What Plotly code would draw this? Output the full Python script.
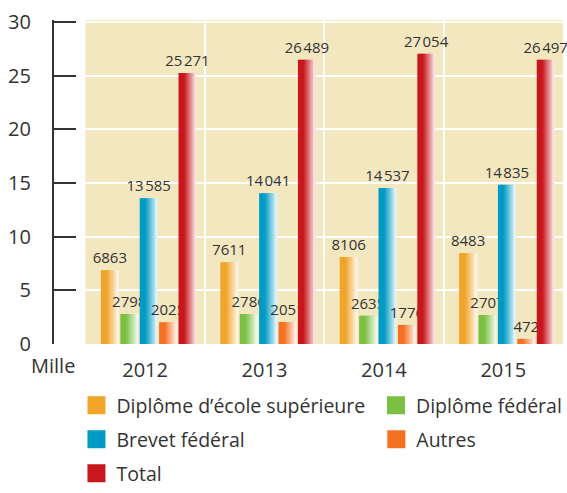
import plotly.graph_objects as go

years = ["2012", "2013", "2014", "2015"]
series_names = ["Diplôme d’école supérieure", "Diplôme fédéral", "Brevet fédéral", "Autres", "Total"]
ecole_sup = [6863, 7611, 8106, 8483]
dipl_federal = [2798, 2786, 2635, 2707]
brevet_federal = [13585, 14041, 14537, 14835]
autres = [2025, 2051, 1776, 472]
total = [25271, 26489, 27054, 26497]

values = [ecole_sup, dipl_federal, brevet_federal, autres, total]
colors = ["#f0a52a", "#7cc043", "#009bc4", "#f47124", "#c8171e"]

FONT = "Open Sans"
TXT = "#333333"
BEIGE = "#f3e7bf"

W, H = 567, 493
PLOT_TOP, PLOT_BOTTOM = 20, 352


def fmt(v):
    s = str(v)
    if len(s) > 4:
        s = s[:-3] + "\u200a" + s[-3:]
    return s


def mix_white(hexcol, a):
    r, g, b = int(hexcol[1:3], 16), int(hexcol[3:5], 16), int(hexcol[5:7], 16)
    r = round(r + (255 - r) * a)
    g = round(g + (255 - g) * a)
    b = round(b + (255 - b) * a)
    return f"rgb({r},{g},{b})"


fig = go.Figure()

# bar geometry in category units
bar_w = 0.15
pitch = 0.1625
left0 = -0.37
K = 12

for i, (name, vals, col) in enumerate(zip(series_names, values, colors)):
    y = [v / 1000 for v in vals]
    left = left0 + i * pitch
    sw = bar_w / K
    # fake the left-to-right fade with thin slices
    for k in range(K):
        t = k / (K - 1)
        a = max(0.0, (t - 0.3) / 0.7) * 0.88
        w = sw * 1.6 if k < K - 1 else sw
        fig.add_trace(go.Bar(x=years, y=y, width=w, offset=left + k * sw,
                             marker=dict(color=mix_white(col, a), line=dict(width=0)),
                             showlegend=False, hoverinfo="skip"))
    # value labels
    fig.add_trace(go.Bar(x=years, y=y, width=bar_w, offset=left,
                         marker=dict(color="rgba(0,0,0,0)", line=dict(width=0)),
                         text=[fmt(v) for v in vals], textposition="outside",
                         textfont=dict(size=15, color=TXT, family=FONT),
                         constraintext="none", cliponaxis=False,
                         showlegend=False, hoverinfo="skip"))

# one legend per entry, placed like the two-column key
legend_ids = ["legend", "legend2", "legend3", "legend4", "legend5"]
legend_pos = [(77, 415), (379, 415), (77, 450), (379, 450), (77, 485)]

for name, col, lg in zip(series_names, colors, legend_ids):
    fig.add_trace(go.Scatter(x=[None], y=[None], mode="markers", name=name,
                             marker=dict(symbol="square", size=16, color=col,
                                         line=dict(width=2, color=col)),
                             legend=lg))

legends = {}
for lg, (px, py) in zip(legend_ids, legend_pos):
    legends[lg] = dict(x=px / W, y=(PLOT_BOTTOM - py) / (PLOT_BOTTOM - PLOT_TOP),
                       xanchor="left", yanchor="middle",
                       font=dict(size=19.5, color=TXT, family=FONT),
                       bgcolor="rgba(0,0,0,0)")

fig.update_layout(
    width=W, height=H,
    margin=dict(l=0, r=0, t=PLOT_TOP, b=H - PLOT_BOTTOM),
    paper_bgcolor="white", plot_bgcolor=BEIGE,
    barmode="overlay",
    font=dict(family=FONT, color=TXT),
    xaxis=dict(domain=[86 / W, 1], range=[-0.5, 3.5], type="category",
               tickson="boundaries", showgrid=True, gridcolor="white", gridwidth=2,
               ticks="", showline=False, zeroline=False,
               tickfont=dict(size=20, color=TXT, family=FONT), ticklabelstandoff=12),
    yaxis=dict(range=[0, 30.2], tickvals=[0, 5, 10, 15, 20, 25, 30],
               anchor="free", position=53 / W,
               showline=True, linecolor="#333333", linewidth=1.5,
               ticks="inside", ticklen=23, tickwidth=1.5, tickcolor="#333333",
               showgrid=True, gridcolor="white", gridwidth=2, zeroline=False,
               tickfont=dict(size=20, color=TXT, family=FONT), ticklabelstandoff=17),
    annotations=[dict(text="Mille", xref="paper", yref="paper",
                      x=78 / W, y=-(374 - PLOT_BOTTOM) / (PLOT_BOTTOM - PLOT_TOP),
                      xanchor="right", yanchor="middle",
                      showarrow=False, font=dict(size=20, color=TXT, family=FONT))],
    **legends,
)

# drop the browser's default 8px body margin so the figure fills the window
fig.write_html("out.html", config={"displayModeBar": False},
               post_script="document.body.style.margin='0';")
